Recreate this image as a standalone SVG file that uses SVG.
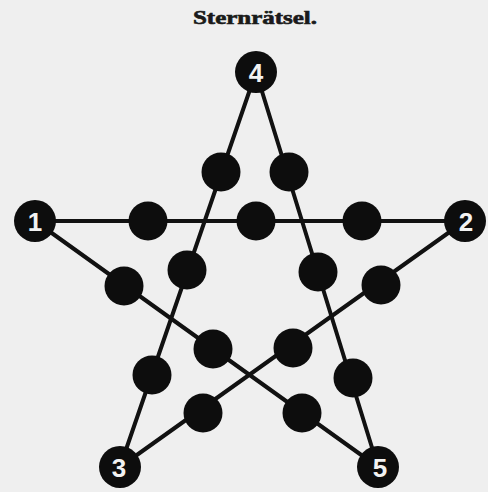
<svg xmlns="http://www.w3.org/2000/svg" width="488" height="492" viewBox="0 0 488 492">
<style>
.edge{stroke:#111;stroke-width:4;fill:none;stroke-linecap:round}
.dot{fill:#0d0d0d}
.num{fill:#f2f2f2;font-family:"Liberation Sans",Arial,sans-serif;font-weight:bold;font-size:26px;text-anchor:middle;dominant-baseline:central}
.title{fill:#1a1a1a;stroke:#1a1a1a;stroke-width:0.6;font-family:"Liberation Serif","DejaVu Serif",serif;font-weight:bold;font-size:18px;text-anchor:middle}
</style>
<rect width="488" height="492" fill="#efefef"/>
<text class="title" x="255" y="24" textLength="124" lengthAdjust="spacingAndGlyphs">Sternrätsel.</text>
<g id="connectors">
<line class="edge" x1="35" y1="221" x2="465" y2="221"/>
<line class="edge" x1="465" y1="221" x2="120" y2="467"/>
<line class="edge" x1="120" y1="467" x2="256" y2="72"/>
<line class="edge" x1="256" y1="72" x2="378" y2="467"/>
<line class="edge" x1="378" y1="467" x2="35" y2="221"/>
</g>
<g id="n1"><circle class="dot" cx="35" cy="221" r="21"/><text class="num" x="35" y="222">1</text></g>
<g id="n2"><circle class="dot" cx="465" cy="221" r="21"/><text class="num" x="466" y="222">2</text></g>
<g id="n3"><circle class="dot" cx="120" cy="467" r="21"/><text class="num" x="119" y="468">3</text></g>
<g id="n4"><circle class="dot" cx="256" cy="72" r="21"/><text class="num" x="256" y="73">4</text></g>
<g id="n5"><circle class="dot" cx="378" cy="467" r="21"/><text class="num" x="380" y="468">5</text></g>
<g id="a1"><circle class="dot" cx="148" cy="221" r="19.5"/></g>
<g id="a2"><circle class="dot" cx="256" cy="221" r="19.5"/></g>
<g id="a3"><circle class="dot" cx="362" cy="221" r="19.5"/></g>
<g id="b1"><circle class="dot" cx="221" cy="172" r="19.5"/></g>
<g id="b2"><circle class="dot" cx="187" cy="270" r="19.5"/></g>
<g id="b3"><circle class="dot" cx="152" cy="375" r="19.5"/></g>
<g id="c1"><circle class="dot" cx="289" cy="172" r="19.5"/></g>
<g id="c2"><circle class="dot" cx="318" cy="272" r="19.5"/></g>
<g id="c3"><circle class="dot" cx="353" cy="378" r="19.5"/></g>
<g id="d1"><circle class="dot" cx="124" cy="286" r="19.5"/></g>
<g id="d2"><circle class="dot" cx="213" cy="349" r="19.5"/></g>
<g id="d3"><circle class="dot" cx="302" cy="413" r="19.5"/></g>
<g id="e1"><circle class="dot" cx="381" cy="285" r="19.5"/></g>
<g id="e2"><circle class="dot" cx="293" cy="348" r="19.5"/></g>
<g id="e3"><circle class="dot" cx="203" cy="413" r="19.5"/></g>
</svg>
